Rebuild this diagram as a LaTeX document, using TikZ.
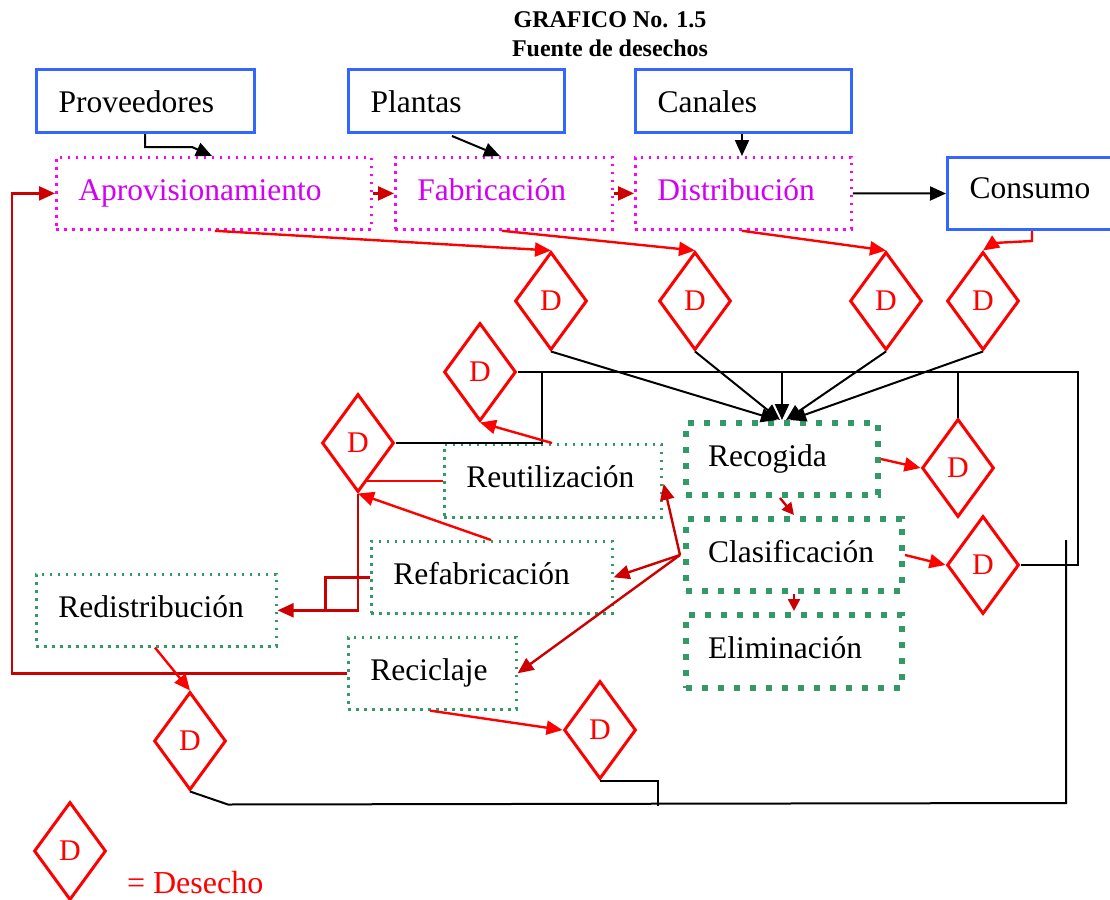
\documentclass[tikz,border=0pt]{standalone}
\usepackage{fontspec}
\setmainfont{Liberation Serif}
\usetikzlibrary{shapes.geometric,arrows.meta,calc}
\definecolor{boxblue}{RGB}{51,102,255}
\definecolor{dotmag}{RGB}{255,0,255}
\definecolor{txtmag}{RGB}{210,0,245}
\definecolor{grn}{RGB}{51,153,102}
\definecolor{rd}{RGB}{255,0,0}
\definecolor{drd}{RGB}{204,0,0}
\begin{document}
\begin{tikzpicture}[x=0.5pt,y=-0.5pt,
  every node/.style={font=\fontsize{15.75}{18}\selectfont},
  basebox/.style={rectangle, inner xsep=11pt, inner ysep=0pt, align=left, anchor=north west,
    text height=10.5pt, text depth=3.5pt},
  bluebox/.style={basebox, draw=boxblue, line width=1.5pt, text height=11pt, text depth=0pt},
  magbox/.style={basebox, draw=dotmag, line width=1.4pt, dash pattern=on 1.4pt off 2.6pt, text=txtmag},
  grnthin/.style={basebox, draw=grn, line width=1.3pt, dash pattern=on 1.3pt off 2.7pt},
  grnthick/.style={basebox, draw=grn, line width=3pt, dash pattern=on 3pt off 5pt},
  dmd/.style={diamond, draw=rd, line width=1.5pt, minimum width=36pt, minimum height=49pt,
    inner sep=0pt, shape aspect=0.735, text=rd, font=\fontsize{15}{15}\selectfont},
  tip/.style={-{Triangle[length=8pt,width=7pt]}},
  smalltip/.style={-{Triangle[length=6pt,width=6pt]}},
  blk/.style={draw=black, line width=1pt},
  rln/.style={draw=rd, line width=1.2pt},
  drln/.style={draw=drd, line width=1.2pt}
]
\useasboundingbox (0,0) rectangle (1110,900);

% title
\node[font=\bfseries\fontsize{12}{14}\selectfont] (t1) at (610,20) {GRAFICO No. 1.5};
\node[font=\bfseries\fontsize{12}{14}\selectfont] (t2) at (610,48) {Fuente de desechos};

% actors
\node[bluebox, text width=87pt, minimum height=31.5pt] (prov) at (35,68) {Proveedores};
\node[bluebox, text width=86pt, minimum height=31.5pt] (plantas) at (347,68) {Plantas};
\node[bluebox, text width=86pt, minimum height=31.5pt] (canales) at (634,68) {Canales};
\node[bluebox, text width=68pt, minimum height=36pt, text height=9.5pt, text depth=4.5pt] (consumo) at (946,156) {Consumo};

% supply chain stages
\node[magbox, text width=135.5pt, minimum height=36pt] (aprov) at (55,156) {Aprovisionamiento};
\node[magbox, text width=86.5pt, minimum height=36pt] (fab) at (394,156) {Fabricación};
\node[magbox, text width=86pt, minimum height=36pt] (dist) at (634,156) {Distribución};

% recovery stages
\node[grnthin, text width=86.5pt, minimum height=36.5pt] (reut) at (443,443) {Reutilización};
\node[grnthin, text width=98.5pt, minimum height=36pt] (refab) at (370,540) {Refabricación};
\node[grnthin, text width=98pt, minimum height=36pt] (redis) at (35,573) {Redistribución};
\node[grnthin, text width=62pt, minimum height=36pt] (recic) at (347,636) {Reciclaje};
\node[grnthick, text width=74pt, minimum height=36pt] (recog) at (683,420) {Recogida};
\node[grnthick, text width=86pt, minimum height=36pt] (clas) at (683,516) {Clasificación};
\node[grnthick, text width=86pt, minimum height=36.5pt] (elim) at (683,612) {Eliminación};

% waste diamonds
\node[dmd] (dA) at (551,301) {D};
\node[dmd] (dF) at (695,301) {D};
\node[dmd] (dDi) at (886,301) {D};
\node[dmd] (dC) at (983,301) {D};
\node[dmd] (dReu) at (480,372) {D};
\node[dmd] (dL) at (358,443) {D};
\node[dmd] (dRg) at (958,468) {D};
\node[dmd] (dCl) at (983,565) {D};
\node[dmd] (dRd) at (190,741) {D};
\node[dmd] (dRc) at (600,730) {D};

% legend
\node[dmd] (leg) at (70,851) {D};
\node[anchor=west, text=rd, font=\fontsize{16}{18}\selectfont] (legtxt) at (120,883) {= Desecho};

% inputs to the chain
\draw[blk, tip] ($(prov.south west)+(110,0)$) -- ++(0,13) -- ++(47,0) -- ($(aprov.north west)+(157,0)$);
\draw[blk, tip] ($(plantas.south west)+(105,2)$) -- ($(fab.north west)+(106,0)$);
\draw[blk, tip] ($(canales.south west)+(108,0)$) -- ($(dist.north west)+(108,0)$);
\draw[blk, tip] (dist.east) -- (consumo.west);
\draw[drln, tip] (aprov.east) -- (fab.west);
\draw[drln, tip] (fab.east) -- (dist.west);

% waste from each stage
\draw[rln, tip] ($(aprov.south west)+(160,0)$) -- (dA.north);
\draw[rln, tip] ($(fab.south west)+(108,0)$) -- (dF.north);
\draw[rln, tip] ($(dist.south west)+(108,0)$) -- (dDi.north);
\draw[rln, tip] ($(consumo.south west)+(86,0)$) -- ++(0,10) -- ++(-38,2) -- (dC.north);

% waste collected
\draw[blk, tip] (dA.south) -- ($(recog.north)+(-5,0)$);
\draw[blk, tip] (dF.south) -- ($(recog.north)+(-2,0)$);
\draw[blk, tip] (dDi.south) -- ($(recog.north)+(4,0)$);
\draw[blk, tip] (dC.south) -- ($(recog.north)+(8,0)$);
\draw[blk, tip] (recog.north |- dReu.east) -- (recog.north);

% return lines
\draw[blk] (dReu.east) -- (1078,372) -- (1078,565) -- (dCl.east);
\draw[blk] (dL.east) -| ($(dReu.east)+(24,0)$);
\draw[blk] (dRg.north) -- (dRg.north |- dReu.east);
\draw[blk] (dRd.south) -- ++(38,13) -- (1066,803) -- (1066,540);
\draw[blk] (dRc.south) -- ++(58,0) -- ++(0,25);

% treatment flow
\draw[rln, tip] (recog.east) -- (dRg.west);
\draw[rln, tip] (clas.east) -- (dCl.west);
\draw[drln, smalltip] ($(recog.south)+(-2,0)$) -- ($(clas.north)+(0,-1)$);
\draw[drln, smalltip] (clas.south) -- ($(elim.north)+(0,-1)$);
\coordinate (fork) at ($(clas.west)+(-3,0)$);
\draw[drln, tip] (fork) -- ($(reut.east)+(1,3)$);
\draw[drln, tip] (fork) -- (refab.east);
\draw[drln, tip] (fork) -- (recic.east);

% recovery waste and loops
\draw[rln, tip] ($(reut.north west)+(109,0)$) -- (dReu.south);
\draw[rln, tip] ($(refab.north west)+(121,0)$) -- (dL.south);
\draw[rln] (reut.west) -- (reut.west -| dL.-78);
\draw[drln, tip] (refab.west) -| ($(redis.east)+(48,0)$) -- (redis.east);
\draw[drln] (dL.south) |- ($(redis.east)+(48,0)$);
\draw[drln, tip] (recic.west) -| ($(aprov.west)+(-43,0)$) -- (aprov.west);
\draw[rln, tip] ($(redis.south west)+(120,0)$) -- (dRd.north);
\draw[rln, tip] ($(recic.south west)+(83,0)$) -- (dRc.west);
\end{tikzpicture}
\end{document}
